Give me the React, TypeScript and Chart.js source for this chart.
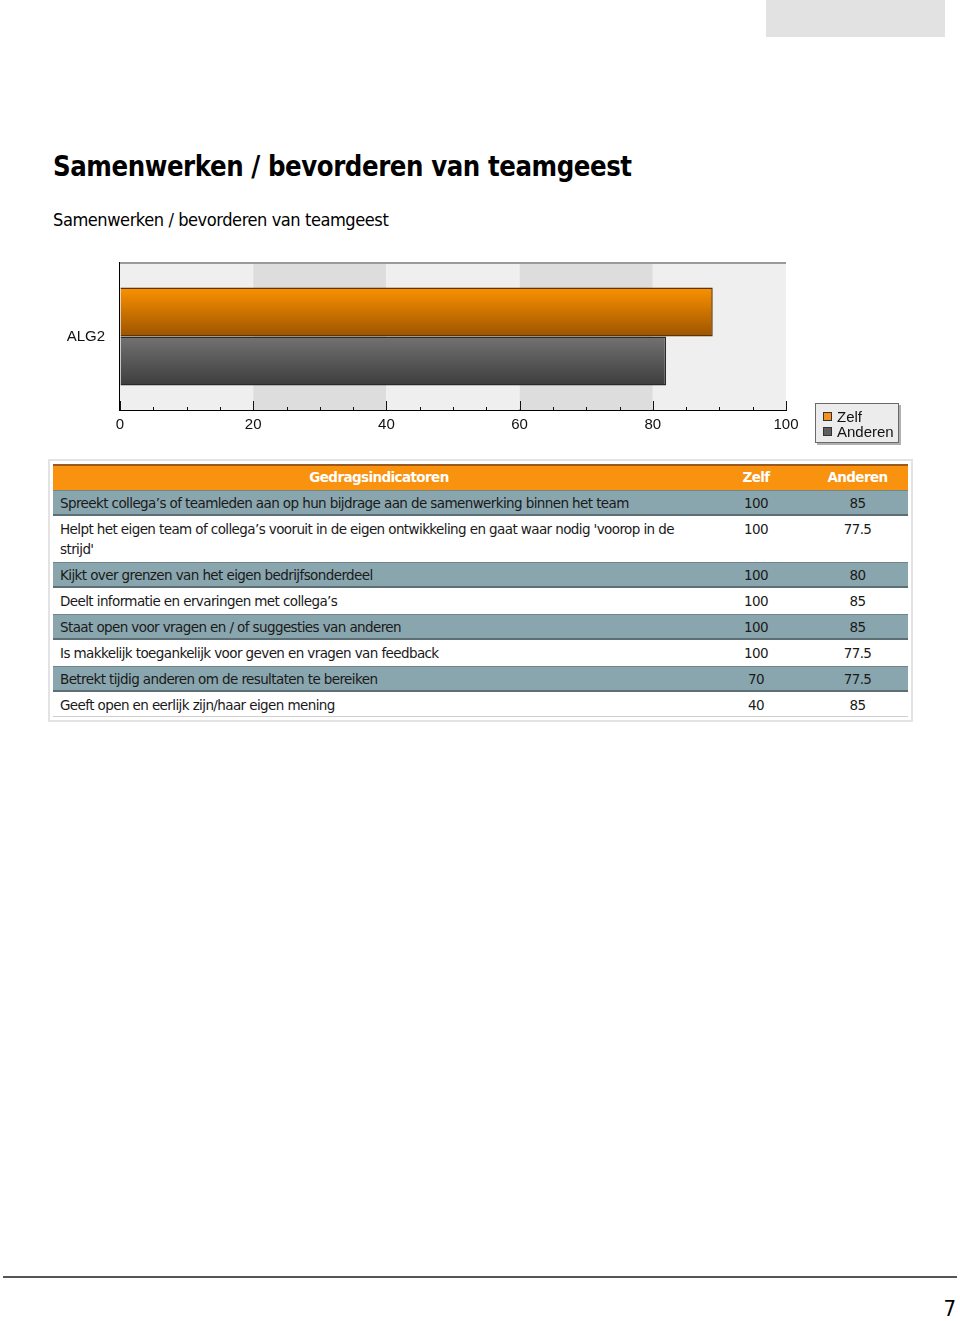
import React, { useEffect, useRef } from "react";
import { Chart, registerables } from "chart.js";

Chart.register(...registerables);

const pageTitle = "Samenwerken / bevorderen van teamgeest";
const chartSubtitle = "Samenwerken / bevorderen van teamgeest";
const categories = ["ALG2"];
const seriesNames = ["Zelf", "Anderen"];
const zelfValues = [89];
const anderenValues = [82];
const xTickLabels = [0, 20, 40, 60, 80, 100];

const tableHeaders = ["Gedragsindicatoren", "Zelf", "Anderen"];
const indicators = [
  "Spreekt collega’s of teamleden aan op hun bijdrage aan de samenwerking binnen het team",
  "Helpt het eigen team of collega’s vooruit in de eigen ontwikkeling en gaat waar nodig 'voorop in de\nstrijd'",
  "Kijkt over grenzen van het eigen bedrijfsonderdeel",
  "Deelt informatie en ervaringen met collega’s",
  "Staat open voor vragen en / of suggesties van anderen",
  "Is makkelijk toegankelijk voor geven en vragen van feedback",
  "Betrekt tijdig anderen om de resultaten te bereiken",
  "Geeft open en eerlijk zijn/haar eigen mening",
];
const zelfScores = ["100", "100", "100", "100", "100", "100", "70", "40"];
const anderenScores = ["85", "77.5", "80", "85", "85", "77.5", "77.5", "85"];
const pageNumber = "7";

const ORANGE = "#f8920f";
const SERIES_TOP = ["#fb9200", "#727272"];
const SERIES_BOTTOM = ["#9c5400", "#3d3d3d"];
const SERIES_BORDER = ["#5e3300", "#2a2a2a"];
const SERIES_SWATCH = ["#f7901e", "#5f5f5f"];
const CAT_PCT = 0.667;

const TABLE_FONT = "'DejaVu Sans', Tahoma, Verdana, sans-serif";
const CHART_FONT = "'Liberation Sans', Arial, sans-serif";

const bandsPlugin = {
  id: "bands",
  beforeDatasetsDraw(chart: any) {
    const { ctx, chartArea } = chart;
    const xs = chart.scales.x;
    ctx.save();
    for (let i = 0; i < xTickLabels.length - 1; i++) {
      const a = xs.getPixelForValue(xTickLabels[i]);
      const b = xs.getPixelForValue(xTickLabels[i + 1]);
      ctx.fillStyle = i % 2 === 0 ? "#efefef" : "#dddddd";
      ctx.fillRect(a, chartArea.top, b - a, chartArea.bottom - chartArea.top);
    }
    ctx.strokeStyle = "#9a9a9a";
    ctx.lineWidth = 2;
    ctx.beginPath();
    ctx.moveTo(chartArea.left, chartArea.top);
    ctx.lineTo(chartArea.right, chartArea.top);
    ctx.stroke();
    ctx.restore();
  },
};

const innerTicksPlugin = {
  id: "innerTicks",
  afterDraw(chart: any) {
    const { ctx, chartArea } = chart;
    const xs = chart.scales.x;
    ctx.save();
    ctx.strokeStyle = "#111";
    ctx.lineWidth = 1;
    for (let v = 0; v <= 100; v += 5) {
      const x = Math.round(xs.getPixelForValue(v)) + 0.5;
      const len = v % 20 === 0 ? 9 : 3;
      ctx.beginPath();
      ctx.moveTo(x, chartArea.bottom);
      ctx.lineTo(x, chartArea.bottom - len);
      ctx.stroke();
    }
    ctx.restore();
  },
};

function barGradient(index: number) {
  return (c: any) => {
    const chart = c.chart;
    const area = chart.chartArea;
    const ys = chart.scales && chart.scales.y;
    if (!area || !ys) return SERIES_TOP[index];
    const center = ys.getPixelForValue(0);
    const half = ((area.bottom - area.top) * CAT_PCT) / 2;
    const top = index === 0 ? center - half : center;
    const bottom = index === 0 ? center : center + half;
    const g = chart.ctx.createLinearGradient(0, top, 0, bottom);
    g.addColorStop(0, SERIES_TOP[index]);
    g.addColorStop(1, SERIES_BOTTOM[index]);
    return g;
  };
}

function BarChart() {
  const ref = useRef<HTMLCanvasElement | null>(null);
  useEffect(() => {
    if (!ref.current) return;
    const chart = new Chart(ref.current, {
      type: "bar",
      data: {
        labels: categories,
        datasets: [
          {
            label: seriesNames[0],
            data: zelfValues,
            backgroundColor: barGradient(0),
            borderColor: SERIES_BORDER[0],
            borderWidth: 1.5,
            categoryPercentage: CAT_PCT,
            barPercentage: 1,
          },
          {
            label: seriesNames[1],
            data: anderenValues,
            backgroundColor: barGradient(1),
            borderColor: SERIES_BORDER[1],
            borderWidth: 1.5,
            categoryPercentage: CAT_PCT,
            barPercentage: 1,
          },
        ],
      },
      options: {
        indexAxis: "y",
        animation: false,
        responsive: false,
        maintainAspectRatio: false,
        devicePixelRatio: 1,
        layout: { padding: { top: 8, right: 124, left: 0, bottom: 0 } },
        plugins: { legend: { display: false }, tooltip: { enabled: false } },
        scales: {
          x: {
            min: 0,
            max: 100,
            ticks: {
              stepSize: 5,
              autoSkip: false,
              maxRotation: 0,
              padding: 6,
              color: "#111",
              font: { family: CHART_FONT, size: 15 },
              callback: (v: any) => (xTickLabels.includes(Number(v)) ? String(v) : ""),
            },
            grid: { drawOnChartArea: false, drawTicks: false },
            border: { color: "#000", width: 2 },
            afterFit: (s: any) => {
              s.height = 40;
              s.paddingLeft = 0;
              s.paddingRight = 0;
            },
          },
          y: {
            ticks: {
              padding: 15,
              color: "#111",
              font: { family: CHART_FONT, size: 15 },
            },
            grid: { drawOnChartArea: false, drawTicks: false },
            border: { color: "#000", width: 2 },
            afterFit: (s: any) => {
              s.width = 70;
              s.paddingTop = 0;
              s.paddingBottom = 0;
            },
          },
        },
      } as any,
      plugins: [bandsPlugin, innerTicksPlugin],
    });
    return () => chart.destroy();
  }, []);
  return (
    <canvas
      ref={ref}
      width={860}
      height={195}
      style={{ position: "absolute", left: 50, top: 255, width: 860, height: 195 }}
    />
  );
}

function Legend() {
  return (
    <div
      style={{
        position: "absolute",
        left: 815,
        top: 403,
        width: 84,
        height: 40,
        boxSizing: "border-box",
        background: "#ececec",
        border: "1px solid #6a6a6a",
        boxShadow: "2px 2px 0 #b0b0b0",
        fontFamily: CHART_FONT,
        fontSize: 15,
        lineHeight: "15px",
        color: "#111",
        paddingTop: 5,
      }}
    >
      {seriesNames.map((n, i) => (
        <div key={n} style={{ position: "relative", height: 15, paddingLeft: 21 }}>
          <span
            style={{
              position: "absolute",
              left: 7,
              top: 3,
              width: 9,
              height: 9,
              boxSizing: "border-box",
              background: SERIES_SWATCH[i],
              border: "1px solid #333",
            }}
          />
          {n}
        </div>
      ))}
    </div>
  );
}

function ScoreTable() {
  const colW = [652, 102, 101];
  return (
    <div
      style={{
        position: "absolute",
        left: 48,
        top: 459,
        width: 865,
        height: 263,
        boxSizing: "border-box",
        border: "2px solid #e3e3e3",
        padding: 3,
        fontFamily: TABLE_FONT,
        fontSize: 13.5,
        letterSpacing: "-0.6px",
        color: "#1a1a1a",
      }}
    >
      <div
        style={{
          display: "flex",
          height: 26,
          boxSizing: "border-box",
          background: ORANGE,
          borderTop: "2px solid #9b5a1c",
          color: "#fff",
          fontWeight: "bold",
          lineHeight: "23px",
        }}
      >
        {tableHeaders.map((h, i) => (
          <div key={h} style={{ width: colW[i], textAlign: "center" }}>
            {h}
          </div>
        ))}
      </div>
      {indicators.map((txt, r) => {
        const shaded = r % 2 === 0;
        const lines = txt.split("\n");
        const last = r === indicators.length - 1;
        return (
          <div
            key={r}
            style={{
              display: "flex",
              boxSizing: "border-box",
              height: lines.length > 1 ? 46 : last ? 25 : 26,
              background: shaded ? "#89a6ae" : "#ffffff",
              borderTop: shaded ? "1px solid #6f868c" : "none",
              borderBottom: shaded ? "2px solid #5b6f75" : last ? "1px solid #cfcfcf" : "none",
              paddingTop: shaded ? 2 : 3,
              lineHeight: "20px",
            }}
          >
            <div style={{ width: colW[0], paddingLeft: 7, boxSizing: "border-box" }}>
              {lines.map((l, k) => (
                <div key={k}>{l}</div>
              ))}
            </div>
            <div style={{ width: colW[1], textAlign: "center" }}>{zelfScores[r]}</div>
            <div style={{ width: colW[2], textAlign: "center" }}>{anderenScores[r]}</div>
          </div>
        );
      })}
    </div>
  );
}

export default function App() {
  return (
    <div style={{ position: "absolute", left: 0, top: 0, width: 960, height: 1321, background: "#fff", overflow: "hidden" }}>
      <div style={{ position: "absolute", left: 766, top: 0, width: 179, height: 37, background: "#e2e2e2" }} />
      <div
        style={{
          position: "absolute",
          left: 53,
          top: 153,
          fontFamily: TABLE_FONT,
          fontWeight: "bold",
          fontSize: 28,
          lineHeight: "28px",
          letterSpacing: "-0.5px",
          color: "#000",
          whiteSpace: "nowrap",
          transform: "scaleX(0.876)",
          transformOrigin: "0 0",
        }}
      >
        {pageTitle}
      </div>
      <div
        style={{
          position: "absolute",
          left: 53,
          top: 211,
          fontFamily: TABLE_FONT,
          fontSize: 18,
          lineHeight: "18px",
          letterSpacing: "-0.5px",
          color: "#000",
          whiteSpace: "nowrap",
          transform: "scaleX(0.904)",
          transformOrigin: "0 0",
        }}
      >
        {chartSubtitle}
      </div>
      <BarChart />
      <Legend />
      <ScoreTable />
      <div style={{ position: "absolute", left: 3, top: 1276, width: 954, height: 2, background: "#555" }} />
      <div
        style={{
          position: "absolute",
          right: 4,
          top: 1298,
          fontFamily: "'Liberation Sans Narrow', 'DejaVu Sans Condensed', 'DejaVu Sans', sans-serif",
          fontSize: 22,
          lineHeight: "22px",
          color: "#000",
        }}
      >
        {pageNumber}
      </div>
    </div>
  );
}
